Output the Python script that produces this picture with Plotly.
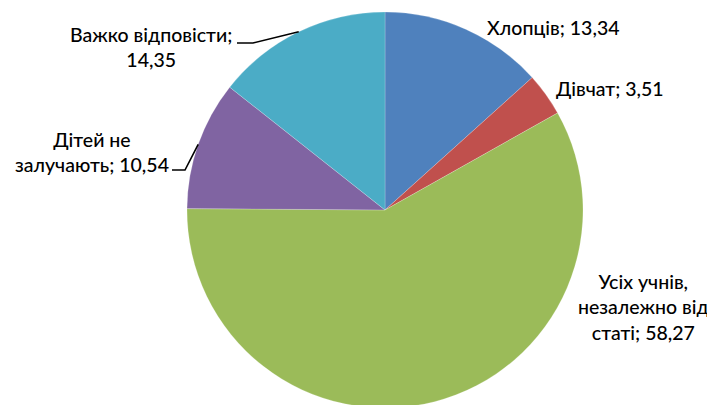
import math
import plotly.graph_objects as go

W, H = 715, 405
OFF = 8  # page body margin: the figure is drawn 8px right and down

labels = ["Хлопців", "Дівчат", "Усіх учнів, незалежно від статі", "Дітей не залучають", "Важко відповісти"]
values = [13.34, 3.51, 58.27, 10.54, 14.35]
colors = ["#4F81BD", "#C0504D", "#9BBB59", "#8064A2", "#4BACC6"]

# label text (line breaks as in the original) and label centre in page pixels
label_text = [
    "Хлопців; 13,34",
    "Дівчат; 3,51",
    "Усіх учнів,<br>незалежно від<br>статі; 58,27",
    "Дітей не<br>залучають; 10,54",
    "Важко відповісти;<br>14,35",
]
label_pos = [(553, 27), (610, 88), (643, 307), (92, 152), (151, 47)]
# leader line elbows (slices that have one): index -> (elbow x, end x, y)
leaders = {3: (185, 172, 170), 4: (253, 237, 43)}

_FONT = dict(family="Lato, 'Open Sans', sans-serif", size=19.5, color="#000000", weight=500)


def px(x):
    return (x - OFF) / W


def py(y):
    return 1 - (y - OFF) / H


# pie centre (385, 210), radius 198 in page pixels
cx, cy, r = 385, 210, 198
dom_x = [px(cx - r), px(cx + r)]
dom_y = [py(cy + r), py(cy - r)]

fig = go.Figure(
    go.Pie(
        labels=labels,
        values=values,
        sort=False,
        direction="clockwise",
        rotation=0,
        marker=dict(colors=colors, line=dict(color="rgba(255,255,255,0.4)", width=0.5)),
        textinfo="none",
        hoverinfo="label+value",
        domain=dict(x=dom_x, y=dom_y),
        showlegend=False,
    )
)

total = sum(values)
cum = 0.0
for i, v in enumerate(values):
    mid = (cum + v / 2) / total * 2 * math.pi
    cum += v
    ax, ay = cx + r * math.sin(mid), cy - r * math.cos(mid)
    if i in leaders:
        ex, endx, ly = leaders[i]
        fig.add_shape(
            type="path",
            xref="paper", yref="paper",
            path=f"M {px(ax)} {py(ay)} L {px(ex)} {py(ly)} L {px(endx)} {py(ly)}",
            line=dict(color="#000000", width=1.6),
        )

for txt, (x, y) in zip(label_text, label_pos):
    fig.add_annotation(
        x=px(x), y=py(y), xref="paper", yref="paper",
        text=txt, showarrow=False, align="center",
        xanchor="center", yanchor="middle",
        font=_FONT,
    )

fig.update_layout(
    width=W, height=H,
    margin=dict(l=0, r=0, t=0, b=0),
    paper_bgcolor="#FFFFFF",
    plot_bgcolor="#FFFFFF",
)

fig.write_html("out.html")
